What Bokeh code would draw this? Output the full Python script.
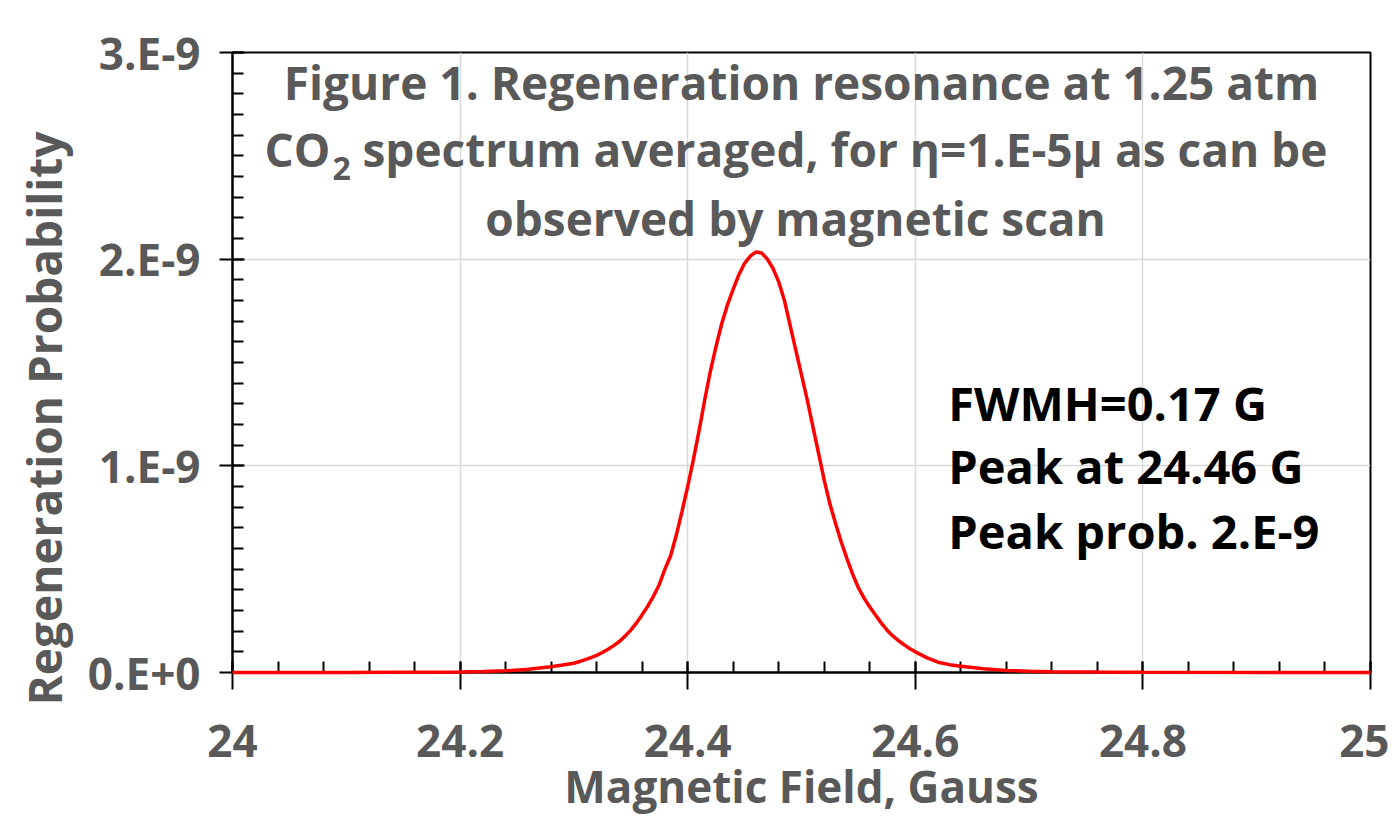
from bokeh.plotting import figure
from bokeh.models import FixedTicker, CustomJSTickFormatter, Label, Title
from bokeh.embed import file_html
from bokeh.resources import INLINE

# ---- data ----
field_gauss = [24.000, 24.100, 24.200, 24.220, 24.240, 24.260, 24.280, 24.290,
               24.300, 24.305, 24.310, 24.315, 24.320, 24.325, 24.330, 24.335,
               24.340, 24.345, 24.350, 24.355, 24.360, 24.365, 24.370, 24.375,
               24.380, 24.385, 24.390, 24.395, 24.400, 24.405, 24.410, 24.415,
               24.420, 24.425, 24.430, 24.435, 24.440, 24.445, 24.450, 24.455,
               24.460, 24.465, 24.470, 24.475, 24.480, 24.485, 24.490, 24.495,
               24.500, 24.505, 24.510, 24.515, 24.520, 24.525, 24.530, 24.535,
               24.540, 24.545, 24.550, 24.555, 24.560, 24.565, 24.570, 24.575,
               24.580, 24.585, 24.590, 24.595, 24.600, 24.610, 24.620, 24.630,
               24.640, 24.660, 24.680, 24.700, 24.720, 24.760, 24.800, 25.000]
probability_e9 = [0.0, 0.0005, 0.003, 0.005, 0.008, 0.016, 0.028, 0.036,
                  0.045, 0.053, 0.062, 0.072, 0.083, 0.097, 0.113, 0.130,
                  0.150, 0.176, 0.205, 0.240, 0.280, 0.322, 0.370, 0.425,
                  0.500, 0.565, 0.665, 0.780, 0.900, 1.030, 1.170, 1.320,
                  1.460, 1.580, 1.690, 1.780, 1.855, 1.925, 1.980, 2.015,
                  2.035, 2.030, 2.000, 1.955, 1.890, 1.800, 1.680, 1.560,
                  1.440, 1.320, 1.190, 1.060, 0.930, 0.815, 0.720, 0.630,
                  0.550, 0.475, 0.410, 0.360, 0.317, 0.278, 0.240, 0.206,
                  0.178, 0.155, 0.135, 0.116, 0.100, 0.072, 0.050, 0.038,
                  0.030, 0.018, 0.010, 0.006, 0.004, 0.002, 0.001, 0.0]
probability = [v * 1e-9 for v in probability_e9]

x_major = [24.0, 24.2, 24.4, 24.6, 24.8, 25.0]
x_minor = [24 + 0.04 * i for i in range(26)]
y_major = [0.0, 1e-9, 2e-9, 3e-9]
y_minor = [0.1e-9 * i for i in range(31)]

title_lines = ["Figure 1. Regeneration resonance at 1.25 atm",
               "spectrum averaged, for \u03b7=1.E-5\u03bc as can be",
               "observed  by magnetic scan"]
notes = ["FWMH=0.17 G", "Peak at 24.46 G", "Peak prob. 2.E-9"]
x_label = "Magnetic Field, Gauss"
y_label = "Regeneration Probability"

FONT = "Open Sans"
GRAY = "#595959"

p = figure(frame_width=1138, frame_height=620,
           x_range=(24, 25), y_range=(0, 3e-9),
           min_border_left=232, min_border_top=52, min_border_right=19, min_border_bottom=100,
           output_backend="svg", toolbar_location=None,
           background_fill_color="white", border_fill_color="white")

p.outline_line_color = "black"
p.outline_line_width = 2

p.xaxis.ticker = FixedTicker(ticks=x_major, minor_ticks=x_minor)
p.yaxis.ticker = FixedTicker(ticks=y_major, minor_ticks=y_minor)
p.xaxis.formatter = CustomJSTickFormatter(code="return String(Math.round(tick*10)/10);")
p.yaxis.formatter = CustomJSTickFormatter(
    code="return tick < 1e-12 ? '0.E+0' : Math.round(tick*1e9) + '.E-9';")

for ax in (p.xaxis, p.yaxis):
    ax.axis_line_color = "black"
    ax.axis_line_width = 2
    ax.major_tick_line_color = "black"
    ax.major_tick_line_width = 2
    ax.minor_tick_line_color = "black"
    ax.minor_tick_line_width = 2
    ax.major_label_text_font = FONT
    ax.major_label_text_font_style = "bold"
    ax.major_label_text_font_size = "44px"
    ax.major_label_text_color = GRAY
    ax.axis_label_text_font = FONT
    ax.axis_label_text_font_style = "bold"
    ax.axis_label_text_color = GRAY

p.xaxis.major_tick_in = 11
p.xaxis.major_tick_out = 17
p.xaxis.minor_tick_in = 11
p.xaxis.minor_tick_out = 0
p.xaxis.major_label_standoff = 35
p.xaxis.axis_label = x_label
p.xaxis.axis_label_text_font_size = "44px"
p.xaxis.axis_label_standoff = -4

p.yaxis.major_tick_in = 12
p.yaxis.major_tick_out = 13
p.yaxis.minor_tick_in = 11
p.yaxis.minor_tick_out = 0
p.yaxis.major_label_standoff = 19

# y-axis title, starting a little below the frame bottom like the reference
p.add_layout(Title(text=y_label, align="left", offset=-33, standoff=20,
                   text_font=FONT, text_font_style="bold", text_font_size="46px",
                   text_color=GRAY), "left")

p.xgrid.ticker = FixedTicker(ticks=x_major[1:-1])
p.ygrid.ticker = FixedTicker(ticks=y_major[1:-1])
p.xgrid.grid_line_color = "#d9d9d9"
p.ygrid.grid_line_color = "#d9d9d9"
p.xgrid.grid_line_width = 1.5
p.ygrid.grid_line_width = 1.5

r = p.line(field_gauss, probability, line_color="#ff0000", line_width=3.5)
r.level = "overlay"

def lab(x, y, text, size, color, align="left"):
    p.add_layout(Label(x=x, y=y, text=text, text_font=FONT, text_font_style="bold",
                       text_font_size=size, text_color=color, text_align=align,
                       text_baseline="alphabetic"))

# title (inside plot area)
lab(24.5, 2.856e-9, title_lines[0], "46px", GRAY, "center")
lab(24.0861, 2.535e-9, "CO", "46px", GRAY, "right")
lab(24.0879, 2.440e-9, "2", "32px", GRAY, "left")
lab(24.1142, 2.535e-9, title_lines[1], "46px", GRAY, "left")
lab(24.5, 2.197e-9, title_lines[2], "46px", GRAY, "center")

# annotation
lab(24.629, 1.302e-9, notes[0], "47px", "black")
lab(24.629, 0.997e-9, notes[1], "47px", "black")
lab(24.629, 0.687e-9, notes[2], "47px", "black")

open("out.html", "w").write(file_html(p, INLINE))
